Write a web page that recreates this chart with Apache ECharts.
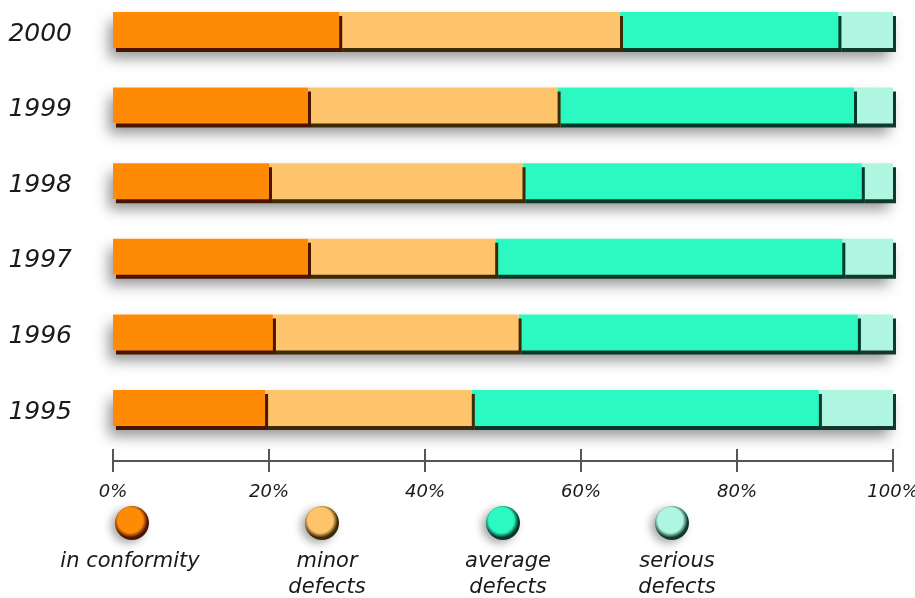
<!DOCTYPE html>
<html>
<head>
<meta charset="utf-8">
<script src="https://cdn.jsdelivr.net/npm/echarts@6/dist/echarts.min.js"></script>
<style>
html,body{margin:0;padding:0;background:#fff;}
#chart{width:915px;height:598px;}
</style>
</head>
<body>
<div id="chart"></div>
<script>
// Data (percent shares), categories listed bottom to top
const years = ['1995', '1996', '1997', '1998', '1999', '2000'];
const inConformity = [19.5, 20.5, 25, 20, 25, 29];
const minorDefects = [26.5, 31.5, 24, 32.5, 32, 36];
const averageDefects = [44.5, 43.5, 44.5, 43.5, 38, 28];
const seriousDefects = [9.5, 4.5, 6.5, 4, 5, 7];
const xTicks = [0, 20, 40, 60, 80, 100];
const legendNames = ['in conformity', 'minor\ndefects', 'average\ndefects', 'serious\ndefects'];

const fills = ['#ff8a06', '#fdc46c', '#2cf8c2', '#aef6df'];
const edges = ['#4a1400', '#3e2a02', '#03382a', '#12382d'];

const totals = years.map((_, i) => inConformity[i] + minorDefects[i] + averageDefects[i] + seriousDefects[i]);
const seriesData = [inConformity, minorDefects, averageDefects, seriousDefects];

const chart = echarts.init(document.getElementById('chart'));
const font = '"DejaVu Sans", "Noto Sans", sans-serif';

const series = [{
  type: 'bar',
  name: 'shadow',
  stack: 'bg',
  data: totals,
  barWidth: 36,
  barGap: '-100%',
  silent: true,
  clip: false,
  z: 1,
  itemStyle: {
    color: '#ffffff',
    shadowColor: 'rgba(0,0,0,0.42)',
    shadowBlur: 14,
    shadowOffsetX: -4,
    shadowOffsetY: 10
  }
}];
seriesData.forEach((d, k) => {
  series.push({
    type: 'bar',
    name: legendNames[k],
    stack: 'total',
    data: d,
    barWidth: 36,
    z: 6 - k,
    silent: true,
    clip: false,
    itemStyle: {
      color: fills[k],
      shadowColor: edges[k],
      shadowBlur: 0,
      shadowOffsetX: 3,
      shadowOffsetY: 4
    }
  });
});

const legendX = [132, 322, 503, 672];
const graphics = [];
legendX.forEach((x, k) => {
  graphics.push({
    type: 'circle',
    shape: { cx: x, cy: 523, r: 17 },
    style: {
      fill: {
        type: 'radial', x: 0.45, y: 0.42, r: 0.6,
        colorStops: [
          { offset: 0, color: fills[k] },
          { offset: 0.62, color: fills[k] },
          { offset: 0.85, color: edges[k] },
          { offset: 1, color: edges[k] }
        ]
      },
      shadowColor: 'rgba(0,0,0,0.35)',
      shadowBlur: 9,
      shadowOffsetX: -4,
      shadowOffsetY: 3
    },
    silent: true
  });
  graphics.push({
    type: 'text',
    x: x + (k === 0 ? -2 : 5),
    y: 549,
    style: {
      text: legendNames[k],
      fill: '#1a1a1a',
      font: 'italic 21px ' + font,
      align: 'center',
      verticalAlign: 'top',
      lineHeight: 26
    },
    silent: true
  });
});

chart.setOption({
  animation: false,
  backgroundColor: '#ffffff',
  grid: { left: 113, right: 22, top: 30, height: 378, outerBoundsMode: 'none', containLabel: false },
  xAxis: [{
    type: 'value',
    min: 0, max: 100, interval: 20,
    position: 'bottom',
    offset: 53,
    axisLine: { show: true, lineStyle: { color: '#555', width: 2 } },
    axisTick: { show: true, inside: false, length: 11, lineStyle: { color: '#555', width: 2 } },
    splitLine: { show: false },
    axisLabel: {
      margin: 22,
      color: '#1a1a1a',
      fontSize: 18,
      fontStyle: 'italic',
      fontFamily: font,
      formatter: v => (xTicks.indexOf(v) >= 0 ? v + '%' : '')
    }
  }, {
    type: 'value',
    min: 0, max: 100, interval: 20,
    position: 'bottom',
    offset: 53,
    axisLine: { show: false },
    axisTick: { show: true, inside: true, length: 12, lineStyle: { color: '#555', width: 2 } },
    splitLine: { show: false },
    axisLabel: { show: false }
  }],
  yAxis: {
    type: 'category',
    data: years,
    boundaryGap: false,
    axisLine: { show: false },
    axisTick: { show: false },
    axisLabel: {
      margin: 41,
      formatter: v => '{y|' + v + '}',
      rich: {
        y: {
          padding: [8, 0, 0, 0],
          color: '#1a1a1a',
          fontSize: 25,
          fontStyle: 'italic',
          fontFamily: font
        }
      }
    }
  },
  series: series,
  graphic: graphics
});
</script>
</body>
</html>
